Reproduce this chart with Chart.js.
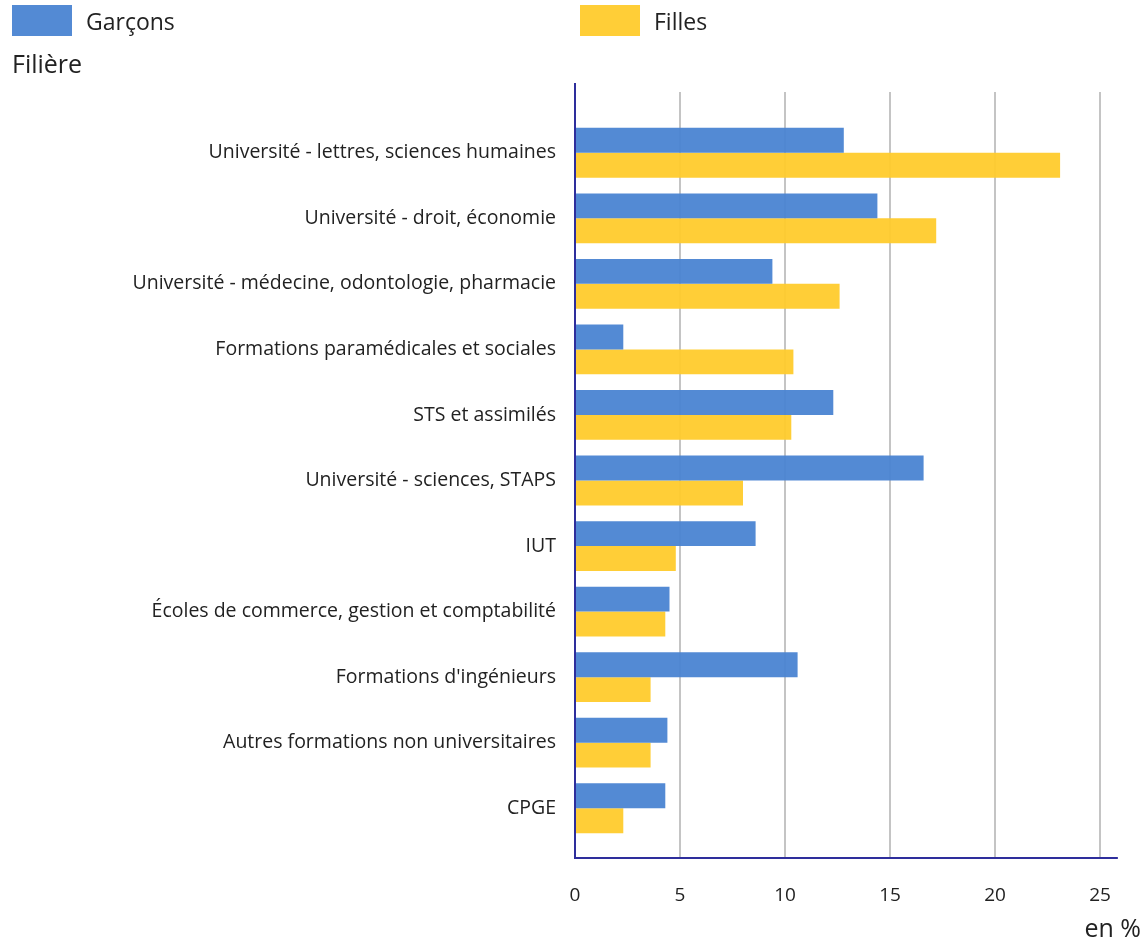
<!DOCTYPE html>
<html>
<head>
<meta charset="utf-8">
<script src="https://cdn.jsdelivr.net/npm/chart.js@4/dist/chart.umd.min.js"></script>
<style>
  html, body { margin: 0; padding: 0; background: #fff; }
  #wrap { width: 1148px; height: 942px; position: relative; }
</style>
</head>
<body>
<div id="wrap"><canvas id="canvas" width="1148" height="942"></canvas></div>
<script>
const categories = [
    'Université - lettres, sciences humaines',
    'Université - droit, économie',
    'Université - médecine, odontologie, pharmacie',
    'Formations paramédicales et sociales',
    'STS et assimilés',
    'Université - sciences, STAPS',
    'IUT',
    'Écoles de commerce, gestion et comptabilité',
    "Formations d'ingénieurs",
    'Autres formations non universitaires',
    'CPGE'
];
const garcons = [12.8, 14.4, 9.4, 2.3, 12.3, 16.6, 8.6, 4.5, 10.6, 4.4, 4.3];
const filles = [23.1, 17.2, 12.6, 10.4, 10.3, 8.0, 4.8, 4.3, 3.6, 3.6, 2.3];
const xTicks = [0, 5, 10, 15, 20, 25];

const FONT = '"Open Sans", "Noto Sans", sans-serif';
const BLUE = 'rgba(74, 132, 210, 0.95)';
const YELLOW = 'rgba(255, 203, 44, 0.95)';

// grid, axes, legend and the axis titles
const decor = {
    id: 'decor',
    beforeDatasetsDraw(chart) {
        const ctx = chart.ctx;
        const x = chart.scales.x;
        ctx.save();
        ctx.strokeStyle = '#c4c4c4';
        ctx.lineWidth = 2;
        xTicks.forEach(function (v) {
            if (v === 0) return;
            const px = x.getPixelForValue(v);
            ctx.beginPath();
            ctx.moveTo(px, 92);
            ctx.lineTo(px, 858);
            ctx.stroke();
        });
        ctx.restore();
    },
    afterDatasetsDraw(chart) {
        const ctx = chart.ctx;
        const x = chart.scales.x;
        const x0 = x.getPixelForValue(0);
        ctx.save();
        ctx.strokeStyle = '#2e2e9c';
        ctx.lineWidth = 2;
        ctx.beginPath();
        ctx.moveTo(x0, 83);
        ctx.lineTo(x0, 858);
        ctx.lineTo(x.getPixelForValue(25.85), 858);
        ctx.stroke();
        ctx.restore();
    },
    afterDraw(chart) {
        const ctx = chart.ctx;
        ctx.save();
        ctx.textBaseline = 'middle';
        ctx.fillStyle = '#222';
        ctx.font = '23px ' + FONT;
        const ds = chart.data.datasets;
        const legendX = [12, 580];
        ds.forEach(function (d, i) {
            ctx.fillStyle = d.backgroundColor;
            ctx.fillRect(legendX[i], 5, 60, 31);
            ctx.fillStyle = '#222';
            ctx.fillText(d.label, legendX[i] + 74, 23);
        });
        ctx.font = '25px ' + FONT;
        ctx.fillText('Filière', 12, 66);
        ctx.textAlign = 'right';
        ctx.fillText('en %', 1141, 930);
        ctx.restore();
    }
};

const ctx = document.getElementById('canvas').getContext('2d');
const myChart = new Chart(ctx, {
    type: 'bar',
    data: {
        labels: categories,
        datasets: [
            { label: 'Garçons', data: garcons, backgroundColor: BLUE },
            { label: 'Filles', data: filles, backgroundColor: YELLOW }
        ]
    },
    options: {
        indexAxis: 'y',
        responsive: false,
        animation: false,
        layout: { padding: { top: 120, right: 27, left: 0, bottom: 0 } },
        plugins: {
            legend: { display: false },
            tooltip: { enabled: false }
        },
        datasets: {
            bar: { categoryPercentage: 0.76, barPercentage: 1.0 }
        },
        scales: {
            x: {
                min: 0,
                max: 26,
                afterBuildTicks: function (scale) {
                    scale.ticks = xTicks.map(function (v) { return { value: v }; });
                },
                afterFit: function (scale) {
                    scale.height = 101;
                    scale.paddingLeft = 0;
                    scale.paddingRight = 0;
                },
                grid: { display: false, drawTicks: false },
                border: { display: false },
                ticks: {
                    padding: 43,
                    color: '#222',
                    font: { family: FONT, size: 19 },
                    maxRotation: 0
                }
            },
            y: {
                afterFit: function (scale) { scale.width = 575; },
                grid: { display: false, drawTicks: false },
                border: { display: false },
                ticks: {
                    padding: 19,
                    color: '#222',
                    font: { family: FONT, size: 19.5 }
                }
            }
        }
    },
    plugins: [decor]
});
</script>
</body>
</html>
